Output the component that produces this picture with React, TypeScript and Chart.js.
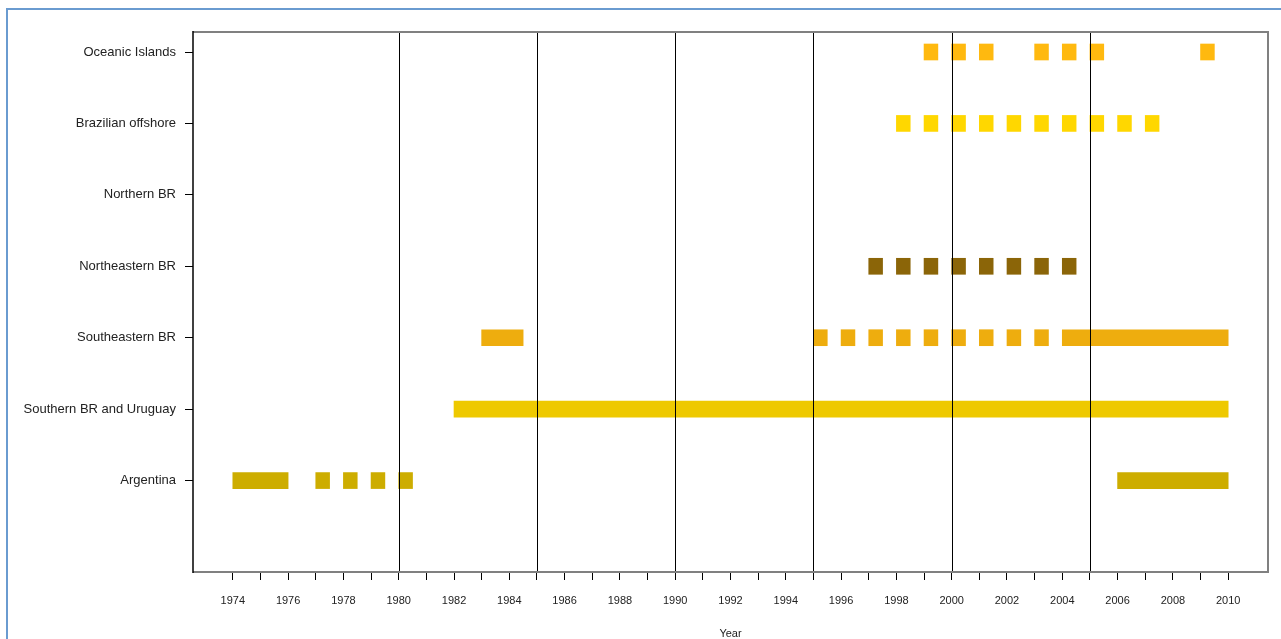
import React, { useEffect, useRef } from 'react';
import { Chart, registerables } from 'chart.js';

Chart.register(...registerables);

// Rows from bottom (y = 1) to top (y = 7)
const rowNames = [
  'Argentina',
  'Southern BR and Uruguay',
  'Southeastern BR',
  'Northeastern BR',
  'Northern BR',
  'Brazilian offshore',
  'Oceanic Islands',
];
const rowValues = [1, 2, 3, 4, 5, 6, 7];
const rowColors = ['#CDAD00', '#EEC900', '#EEAD0E', '#8B6508', '#8B8B00', '#FFD700', '#FFB90F'];

// [start year, end year] periods per row
const argentina = [[1974, 1976], [1977, 1977.5], [1978, 1978.5], [1979, 1979.5], [1980, 1980.5], [2006, 2010]];
const southernBR = [[1982, 2010]];
const southeasternBR = [
  [1983, 1984.5], [1995, 1995.5], [1996, 1996.5], [1997, 1997.5], [1998, 1998.5], [1999, 1999.5],
  [2000, 2000.5], [2001, 2001.5], [2002, 2002.5], [2003, 2003.5], [2004, 2010],
];
const northeasternBR = [
  [1997, 1997.5], [1998, 1998.5], [1999, 1999.5], [2000, 2000.5], [2001, 2001.5], [2002, 2002.5],
  [2003, 2003.5], [2004, 2004.5],
];
const northernBR: number[][] = [];
const brazilianOffshore = [
  [1998, 1998.5], [1999, 1999.5], [2000, 2000.5], [2001, 2001.5], [2002, 2002.5], [2003, 2003.5],
  [2004, 2004.5], [2005, 2005.5], [2006, 2006.5], [2007, 2007.5],
];
const oceanicIslands = [
  [1999, 1999.5], [2000, 2000.5], [2001, 2001.5], [2003, 2003.5], [2004, 2004.5], [2005, 2005.5], [2009, 2009.5],
];
const rowPeriods = [argentina, southernBR, southeasternBR, northeasternBR, northernBR, brazilianOffshore, oceanicIslands];

const yearTicks = [
  1974, 1975, 1976, 1977, 1978, 1979, 1980, 1981, 1982, 1983, 1984, 1985, 1986, 1987, 1988, 1989, 1990,
  1991, 1992, 1993, 1994, 1995, 1996, 1997, 1998, 1999, 2000, 2001, 2002, 2003, 2004, 2005, 2006, 2007,
  2008, 2009, 2010,
];
const refLines = [1980, 1985, 1990, 1995, 2000, 2005];
const xMin = 1972.56;
const xMax = 2011.44;
const yMin = -0.28;
const yMax = 7.28;
const xTitle = 'Year';

const FONT = "'Liberation Sans', Arial, sans-serif";
const TEXT = '#222222';

const decorPlugin = {
  id: 'decor',
  afterDatasetsDraw(chart: any) {
    const { ctx, chartArea } = chart;
    const xs = chart.scales.x;
    ctx.save();
    ctx.strokeStyle = '#000000';
    ctx.lineWidth = 1;
    refLines.forEach((v) => {
      const px = Math.round(xs.getPixelForValue(v)) + 0.5;
      ctx.beginPath();
      ctx.moveTo(px, chartArea.top);
      ctx.lineTo(px, chartArea.bottom);
      ctx.stroke();
    });
    ctx.restore();
  },
  afterDraw(chart: any) {
    const { ctx, chartArea } = chart;
    const { left, right, top, bottom } = chartArea;
    ctx.save();
    ctx.strokeStyle = '#808080';
    ctx.lineWidth = 2;
    ctx.beginPath();
    ctx.moveTo(left, top);
    ctx.lineTo(right, top);
    ctx.lineTo(right, bottom);
    ctx.lineTo(left, bottom);
    ctx.stroke();
    ctx.strokeStyle = '#000000';
    ctx.lineWidth = 1.5;
    ctx.beginPath();
    ctx.moveTo(left, top - 1);
    ctx.lineTo(left, bottom + 1);
    ctx.stroke();
    ctx.fillStyle = TEXT;
    ctx.font = `11px ${FONT}`;
    ctx.textAlign = 'center';
    ctx.textBaseline = 'middle';
    ctx.fillText(xTitle, (left + right) / 2, bottom + 62);
    ctx.restore();
  },
};

export default function App() {
  const ref = useRef<HTMLCanvasElement | null>(null);

  useEffect(() => {
    if (!ref.current) return;
    const datasets = rowPeriods.map((periods, i) => ({
      label: rowNames[i],
      data: periods.map((p) => ({ x: [p[0], p[1]], y: rowValues[i] })),
      backgroundColor: rowColors[i],
      borderWidth: 0,
      barThickness: 16,
      grouped: false,
    }));
    const chart = new Chart(ref.current, {
      type: 'bar',
      data: { datasets: datasets as any },
      options: {
        indexAxis: 'y',
        animation: false,
        responsive: false,
        maintainAspectRatio: false,
        layout: { padding: { top: 32, right: 13, left: 0, bottom: 0 } },
        plugins: { legend: { display: false }, tooltip: { enabled: false } },
        scales: {
          x: {
            type: 'linear',
            position: 'bottom',
            min: xMin,
            max: xMax,
            offset: false,
            afterBuildTicks: (s: any) => {
              s.ticks = yearTicks.map((v) => ({ value: v }));
            },
            afterFit: (s: any) => {
              s.height = 67;
            },
            grid: { offset: false, drawOnChartArea: false, drawTicks: true, tickLength: 8, color: '#000000', lineWidth: 1 },
            border: { display: false },
            ticks: {
              autoSkip: false,
              maxRotation: 0,
              padding: 14,
              color: TEXT,
              font: { family: FONT, size: 11 },
              callback: (v: any) => (Number(v) % 2 === 0 ? String(v) : ''),
            },
          },
          y: {
            type: 'linear',
            min: yMin,
            max: yMax,
            offset: false,
            afterBuildTicks: (s: any) => {
              s.ticks = rowValues.map((v) => ({ value: v }));
            },
            afterFit: (s: any) => {
              s.width = 193;
            },
            grid: { offset: false, drawOnChartArea: false, drawTicks: true, tickLength: 8, color: '#000000', lineWidth: 1 },
            border: { display: false },
            ticks: {
              autoSkip: false,
              padding: 9,
              color: TEXT,
              font: { family: FONT, size: 13 },
              callback: (v: any) => rowNames[rowValues.indexOf(Number(v))] ?? '',
            },
          },
        },
      },
      plugins: [decorPlugin],
    });
    return () => chart.destroy();
  }, []);

  return (
    <div style={{ position: 'fixed', left: 0, top: 0, width: 1281, height: 639, overflow: 'hidden', background: '#ffffff' }}>
      <div
        style={{
          position: 'absolute',
          left: 6,
          top: 8,
          width: 1300,
          height: 700,
          borderLeft: '2px solid #6A9BD0',
          borderTop: '2px solid #6A9BD0',
        }}
      />
      <canvas ref={ref} width={1281} height={639} style={{ position: 'absolute', left: 0, top: 0 }} />
    </div>
  );
}
